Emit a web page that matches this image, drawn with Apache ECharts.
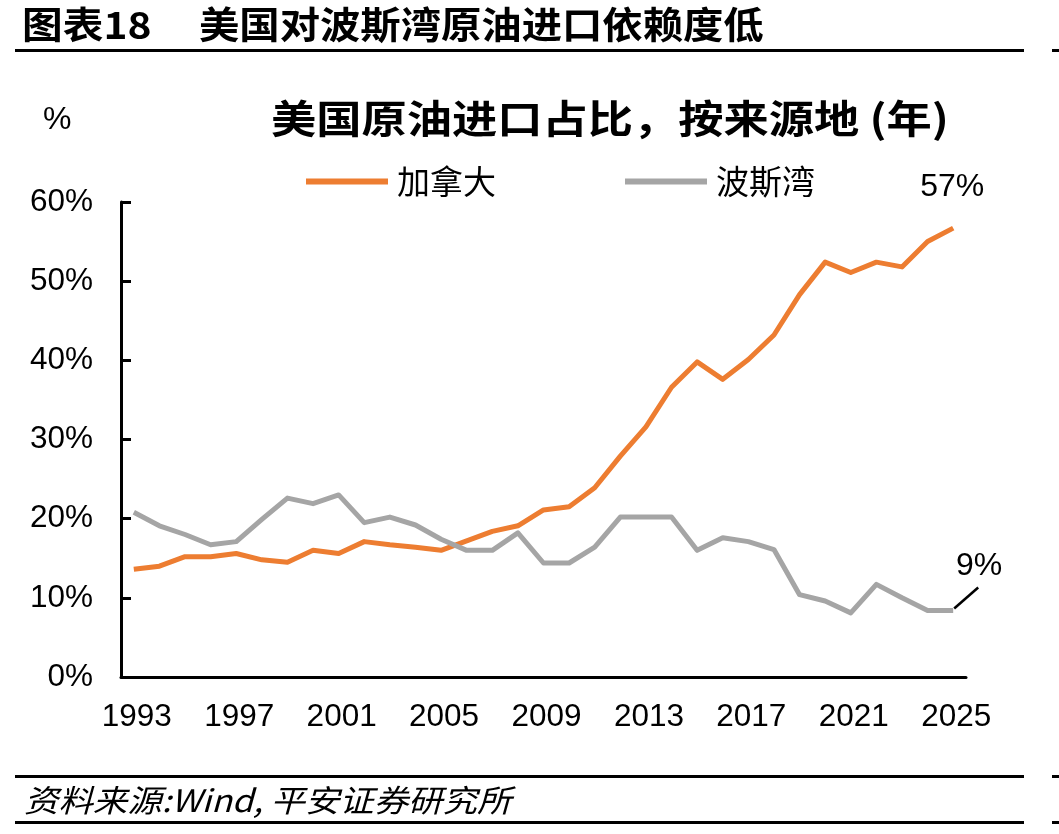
<!DOCTYPE html>
<html>
<head>
<meta charset="utf-8">
<script src="https://cdn.jsdelivr.net/npm/echarts@6/dist/echarts.min.js"></script>
<style>
html,body{margin:0;padding:0;background:#fff;}
#c{width:1059px;height:834px;}
</style>
</head>
<body>
<div id="c"></div>
<script>
const years = ['1993','1994','1995','1996','1997','1998','1999','2000','2001','2002',
  '2003','2004','2005','2006','2007','2008','2009','2010','2011','2012',
  '2013','2014','2015','2016','2017','2018','2019','2020','2021','2022',
  '2023','2024','2025'];
const canada = [13.6,14.0,15.2,15.2,15.6,14.8,14.5,16.0,15.6,17.1,
  16.7,16.4,16.0,17.2,18.4,19.1,21.1,21.5,23.9,27.9,
  31.6,36.6,39.8,37.6,40.1,43.2,48.3,52.4,51.1,52.4,
  51.8,55.0,56.7];
const gulf = [20.8,19.1,18.0,16.7,17.1,19.9,22.6,21.9,23.0,19.5,
  20.2,19.2,17.4,16.0,16.0,18.2,14.4,14.4,16.4,20.2,
  20.2,20.2,16.0,17.6,17.1,16.1,10.4,9.6,8.1,11.7,
  10.0,8.4,8.4];
const seriesNames = ['加拿大','波斯湾'];
const endLabels = ['57%','9%'];
const yTicks = [0,10,20,30,40,50,60];

const FONT = '"Liberation Sans", Arial, "Noto Sans CJK SC", sans-serif';
const CJK = '"Noto Sans CJK SC", "Liberation Sans", sans-serif';

const chart = echarts.init(document.getElementById('c'), null, {renderer:'canvas'});

function txt(x, y, text, font, sx) {
  return {type:'text', x:x, y:y, scaleX:sx || 1,
    style:{text:text, font:font, fill:'#000', align:'left', verticalAlign:'top'}};
}

const baseGraphics = [
  txt(22, 6, '图表18', 'bold 37px '+CJK, 1.1),
  txt(199, 6, '美国对波斯湾原油进口依赖度低', 'bold 37px '+CJK, 1.09),
  {type:'rect', shape:{x:15, y:49, width:1009, height:3}, style:{fill:'#000'}},
  {type:'rect', shape:{x:1052, y:49, width:7, height:3}, style:{fill:'#000'}},
  txt(43, 104, '%', '32px '+FONT),
  txt(271, 99, '美国原油进口占比，按来源地 (年)', 'bold 39px '+CJK, 1.16),
  {type:'rect', shape:{x:15, y:775, width:1009, height:3}, style:{fill:'#000'}},
  {type:'rect', shape:{x:1052, y:775, width:7, height:3}, style:{fill:'#000'}},
  txt(24, 785, '资料来源:Wind, 平安证券研究所', 'italic 31px '+CJK, 1.11),
  {type:'rect', shape:{x:15, y:821, width:1009, height:3}, style:{fill:'#000'}},
  {type:'rect', shape:{x:1052, y:821, width:7, height:3}, style:{fill:'#000'}}
];

const option = {
  animation:false,
  backgroundColor:'#fff',
  color:['#ED7D31','#A5A5A5'],
  grid:{left:121, right:93, top:202, bottom:157, containLabel:false},
  legend:{
    data:seriesNames, left:301, top:160, icon:'rect', itemWidth:82, itemHeight:6, itemGap:129,
    textStyle:{fontSize:33, fontFamily:CJK, color:'#000', padding:[0,0,0,4]}
  },
  xAxis:{
    type:'category', data:years, boundaryGap:true,
    axisLine:{lineStyle:{color:'#000', width:3}},
    axisTick:{inside:true, length:8, interval:3, lineStyle:{color:'#000', width:3}},
    axisLabel:{interval:3, fontSize:31.5, fontFamily:FONT, color:'#000', margin:25, padding:[0,0,0,6]}
  },
  yAxis:{
    type:'value', min:yTicks[0], max:yTicks[yTicks.length-1], interval:10,
    splitLine:{show:false},
    axisLine:{show:true, lineStyle:{color:'#000', width:3}},
    axisTick:{show:true, inside:true, length:10, lineStyle:{color:'#000', width:3}},
    axisLabel:{fontSize:31.5, fontFamily:FONT, color:'#000', margin:28, padding:[8,0,0,0], formatter:'{value}%'}
  },
  series:[
    {name:seriesNames[0], type:'line', data:canada, symbol:'none', lineStyle:{width:5, color:'#ED7D31', join:'round'}, itemStyle:{color:'#ED7D31'}},
    {name:seriesNames[1], type:'line', data:gulf, symbol:'none', lineStyle:{width:5, color:'#A5A5A5', join:'round'}, itemStyle:{color:'#A5A5A5'}}
  ],
  graphic:baseGraphics
};
chart.setOption(option);

const last = years.length - 1;
const pC = chart.convertToPixel({gridIndex:0}, [last, canada[last]]);
const pG = chart.convertToPixel({gridIndex:0}, [last, gulf[last]]);
chart.setOption({graphic: baseGraphics.concat([
  {type:'text', x:pC[0]-1, y:pC[1]-41, style:{text:endLabels[0], font:'32px '+FONT, fill:'#000', align:'center', verticalAlign:'middle'}},
  {type:'line', shape:{x1:pG[0]+1, y1:pG[1]-2, x2:pG[0]+25, y2:pG[1]-23}, style:{stroke:'#000', lineWidth:2.5}},
  {type:'text', x:pG[0]+26, y:pG[1]-44, style:{text:endLabels[1], font:'32px '+FONT, fill:'#000', align:'center', verticalAlign:'middle'}}
])});
</script>
</body>
</html>
